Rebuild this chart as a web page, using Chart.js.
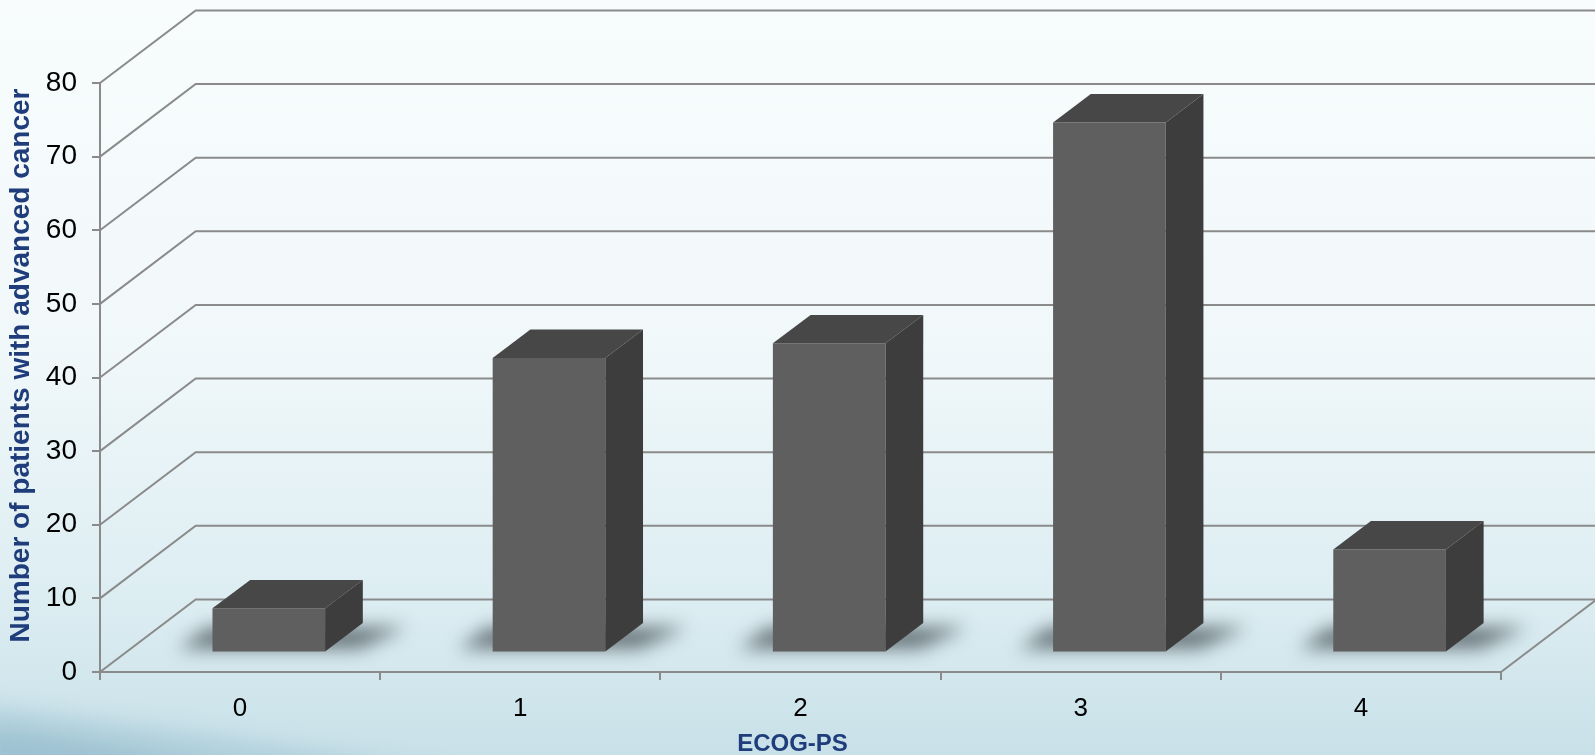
<!DOCTYPE html>
<html>
<head>
<meta charset="utf-8">
<script src="https://cdn.jsdelivr.net/npm/chart.js@4.4.0/dist/chart.umd.min.js"></script>
<style>
  html, body { margin: 0; padding: 0; background: #f7fbfc; overflow: hidden; }
  canvas { display: block; }
</style>
</head>
<body>
<canvas id="myChart" width="1595" height="755"></canvas>
<script>
// data
const categories = ['0', '1', '2', '3', '4'];
const patients = [6, 40, 42, 72, 14];
const yTicks = [0, 10, 20, 30, 40, 50, 60, 70, 80];
const xTitle = 'ECOG-PS';
const yTitle = 'Number of patients with advanced cancer';

// 3d look (pixels)
const WALL_DX = 95.7, WALL_DY = -72.6;  // floor depth, front edge to back wall
const BAR_DX = 28.7, BAR_DY = -19.5;    // bars stand this far behind the front edge
const BOX_DX = 37.7, BOX_DY = -28.4;    // bar thickness
const gridColor = '#8a8a8a';
const titleColor = '#1f3d7a';
const fontFamily = "'Liberation Sans', Arial, sans-serif";

const box3d = {
    id: 'box3d',
    beforeDraw(chart) {
        const { ctx, width, height } = chart;
        ctx.save();
        const g = ctx.createLinearGradient(0, 0, 0, height);
        g.addColorStop(0, '#f8fcfd');
        g.addColorStop(0.45, '#f1f8fa');
        g.addColorStop(0.8, '#dcedf2');
        g.addColorStop(1, '#c8e0e8');
        ctx.fillStyle = g;
        ctx.fillRect(0, 0, width, height);

        // soft swoosh bottom left
        ctx.filter = 'blur(10px)';
        ctx.beginPath();
        ctx.moveTo(-20, 705);
        ctx.quadraticCurveTo(200, 730, 460, height + 20);
        ctx.lineTo(-20, height + 20);
        ctx.closePath();
        ctx.fillStyle = 'rgba(120,170,192,0.28)';
        ctx.fill();

        ctx.beginPath();
        ctx.moveTo(-20, 728);
        ctx.quadraticCurveTo(110, 740, 240, height + 20);
        ctx.lineTo(-20, height + 20);
        ctx.closePath();
        ctx.fillStyle = 'rgba(100,150,178,0.25)';
        ctx.fill();
        ctx.restore();
    },
    beforeDatasetsDraw(chart) {
        const { ctx, width, chartArea } = chart;
        const y = chart.scales.y;
        ctx.save();
        ctx.strokeStyle = gridColor;
        ctx.lineWidth = 2;
        // side wall and back wall lines
        yTicks.forEach((v) => {
            const py = y.getPixelForValue(v);
            ctx.beginPath();
            ctx.moveTo(chartArea.left, py);
            ctx.lineTo(chartArea.left + WALL_DX, py + WALL_DY);
            ctx.lineTo(width + 5, py + WALL_DY);
            ctx.stroke();
        });
        // right edge of the floor
        const py0 = y.getPixelForValue(0);
        ctx.beginPath();
        ctx.moveTo(chartArea.right, py0);
        ctx.lineTo(chartArea.right + WALL_DX, py0 + WALL_DY);
        ctx.stroke();

        // soft shadows on the floor
        const meta = chart.getDatasetMeta(0);
        ctx.filter = 'blur(9px)';
        ctx.fillStyle = 'rgba(40,50,56,0.65)';
        meta.data.forEach((bar) => {
            const p = bar.getProps(['x', 'base', 'width'], true);
            const L = p.x - p.width / 2 + BAR_DX;
            const R = p.x + p.width / 2 + BAR_DX;
            const B = p.base + BAR_DY;
            ctx.beginPath();
            ctx.moveTo(L - 34, B - 3);
            ctx.lineTo(L - 34 + BOX_DX * 0.8, B + BOX_DY * 0.85);
            ctx.lineTo(R + BOX_DX + 44, B + BOX_DY * 0.85);
            ctx.lineTo(R + 34, B - 3);
            ctx.closePath();
            ctx.fill();
        });
        ctx.restore();
    },
    beforeDatasetDraw(chart) {
        chart.ctx.save();
        chart.ctx.translate(BAR_DX, BAR_DY);
    },
    afterDatasetDraw(chart, args) {
        const { ctx } = chart;
        args.meta.data.forEach((bar) => {
            const p = bar.getProps(['x', 'y', 'base', 'width'], true);
            const L = p.x - p.width / 2, R = p.x + p.width / 2;
            const T = p.y, B = p.base;
            // top
            ctx.beginPath();
            ctx.moveTo(L, T);
            ctx.lineTo(L + BOX_DX, T + BOX_DY);
            ctx.lineTo(R + BOX_DX, T + BOX_DY);
            ctx.lineTo(R, T);
            ctx.closePath();
            ctx.fillStyle = '#474747';
            ctx.fill();
            // side
            ctx.beginPath();
            ctx.moveTo(R, T);
            ctx.lineTo(R + BOX_DX, T + BOX_DY);
            ctx.lineTo(R + BOX_DX, B + BOX_DY);
            ctx.lineTo(R, B);
            ctx.closePath();
            ctx.fillStyle = '#3d3d3d';
            ctx.fill();
        });
        ctx.restore();
    },
    afterDraw(chart) {
        // axis titles, placed like the original slide
        const { ctx, chartArea } = chart;
        ctx.save();
        ctx.fillStyle = titleColor;
        ctx.textAlign = 'center';
        ctx.textBaseline = 'middle';
        ctx.font = 'bold 24px ' + fontFamily;
        ctx.fillText(xTitle, (chartArea.left + chartArea.right) / 2 - 8, 744);
        ctx.translate(21.5, (chartArea.top + chartArea.bottom) / 2 - 12);
        ctx.rotate(-Math.PI / 2);
        ctx.font = 'bold 28px ' + fontFamily;
        ctx.fillText(yTitle, 0, 0);
        ctx.restore();
    }
};

const chart = new Chart(document.getElementById('myChart'), {
    type: 'bar',
    data: {
        labels: categories,
        datasets: [{
            label: 'Patients',
            data: patients,
            backgroundColor: '#5f5f5f',
            borderWidth: 0,
            categoryPercentage: 1,
            barPercentage: 0.402,
            clip: false
        }]
    },
    options: {
        responsive: false,
        animation: false,
        events: [],
        layout: { padding: { top: 83, right: 94, left: 0, bottom: 0 } },
        plugins: {
            legend: { display: false },
            tooltip: { enabled: false }
        },
        scales: {
            x: {
                afterFit(scale) { scale.height = 83; },
                grid: { drawOnChartArea: false, drawTicks: true, tickLength: 8, color: gridColor, lineWidth: 2 },
                border: { display: true, color: gridColor, width: 2 },
                ticks: { color: '#000', padding: 13, font: { family: fontFamily, size: 26 } },
                title: { display: false }
            },
            y: {
                min: yTicks[0],
                max: yTicks[yTicks.length - 1],
                afterFit(scale) { scale.width = 100; },
                grid: { drawOnChartArea: false, drawTicks: true, tickLength: 8, color: gridColor, lineWidth: 2 },
                border: { display: true, color: gridColor, width: 2 },
                ticks: { stepSize: yTicks[1] - yTicks[0], color: '#000', padding: 15, font: { family: fontFamily, size: 28 } },
                title: { display: false }
            }
        }
    },
    plugins: [box3d]
});
</script>
</body>
</html>
